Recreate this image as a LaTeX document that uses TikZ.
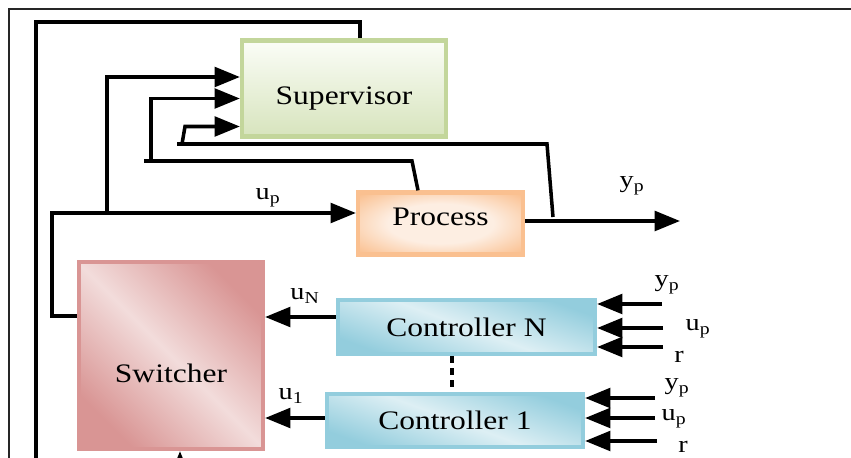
\documentclass[tikz,border=0pt]{standalone}
\usepackage{xcolor}
\usepackage{fontspec}
\setmainfont[FakeStretch=1.18]{Liberation Serif}
\usepackage{tikz}
\usetikzlibrary{arrows.meta,calc,shapes}

\definecolor{supline}{HTML}{C3D69B}
\definecolor{suptop}{HTML}{FBFDF7}
\definecolor{supbot}{HTML}{D7E4BD}
\definecolor{procline}{HTML}{FAC090}
\definecolor{proclight}{HTML}{FDEEE2}
\definecolor{swline}{HTML}{D99594}
\definecolor{swlight}{HTML}{F2DCDB}
\definecolor{ctrlline}{HTML}{93CDDD}
\definecolor{ctrllight}{HTML}{DDEFF4}

\pgfdeclareradialshading{procshade}{\pgfpoint{0bp}{0bp}}{color(0bp)=(proclight); color(16bp)=(proclight); color(34bp)=(procline); color(50bp)=(procline)}

\tikzset{
  blk/.style={draw, line width=3pt, inner sep=0pt, font=\fontsize{19}{23}\selectfont},
  boxtxt/.style={font=\fontsize{19}{23}\selectfont},
  sig/.style={font=\fontsize{17}{20}\selectfont, inner sep=0pt},
  wire/.style={line width=2.5pt},
  arr/.style={wire, -{Triangle[length=18pt,width=14pt]}},
}

\begin{document}
\begin{tikzpicture}[x=0.025cm, y=-0.025cm]
\useasboundingbox (0,0) rectangle (851,458);
\clip (0,0) rectangle (851,458);

% outer frame
\draw[line width=1.2pt, black!85] (9,470) -- (9,9) -- (860,9);

% blocks
\node[blk, draw=supline, top color=suptop, bottom color=supbot,
      minimum width=5.1cm, minimum height=2.4cm,
      label={[boxtxt,yshift=-0.25cm]center:Supervisor}] (sup) at (344,88.5) {};
\node[blk, draw=procline, shading=procshade,
      minimum width=4.125cm, minimum height=1.55cm,
      label={[boxtxt,yshift=0.17cm]center:Process}] (proc) at (440.5,223.5) {};
\node[blk, draw=swline, left color=swline, right color=swline, middle color=swlight,
      shading angle=-45, minimum width=4.6cm, minimum height=4.675cm,
      label={[boxtxt,yshift=-0.44cm]center:Switcher}] (sw) at (171,355.5) {};
\node[blk, draw=ctrlline, left color=ctrlline, right color=ctrlline, middle color=ctrllight,
      shading angle=-20, minimum width=6.425cm, minimum height=1.35cm] (ctrlN) at (466.5,327) {Controller N};
\node[blk, draw=ctrlline, left color=ctrlline, right color=ctrlline, middle color=ctrllight,
      shading angle=-20, minimum width=6.4cm, minimum height=1.325cm] (ctrl1) at (455,420.5) {Controller 1};

% supervisor back to switcher
\coordinate (loopc) at (36,22);
\coordinate (loopb) at (36,470);
\draw[wire] ($(sup.north)+(16,0)$) |- (loopc) -- (loopb);
\coordinate (swin) at (180,480);
\draw[arr] (swin) -- ($(sw.south)+(9,0)$);

% switcher output u_p to process
\coordinate (upin) at ($(proc.west)+(0,-10.5)$);
\draw[arr] ($(sw.north west)+(0,56)$) -- ++(-25,0) |- (upin);
\node[sig] (lup) at (268,198) {u\textsubscript{p}};

% feedbacks into supervisor
\draw[arr] (107,213) |- ($(sup.west)+(0,-11.5)$);
\draw[wire] ($(proc.north)+(-22.5,0)$) -- (412,161) -- (144,161);
\draw[arr] (151,161) |- ($(sup.west)+(0,10)$);
\draw[wire] (553,217) -- (547,144) -- (177,144);
\draw[arr] (182,144) -- (185,126.5) -- ($(sup.west)+(0,38)$);

% process output
\coordinate (yout) at (680,221);
\draw[arr] ($(proc.east)+(0,-2.5)$) -- (yout);
\node[sig] (lyp) at (632,186) {y\textsubscript{p}};

% controllers to switcher
\coordinate (uNo) at ($(ctrlN.west)+(0,-10)$);
\draw[arr] (uNo) -- (sw.east |- uNo);
\node[sig] (luN) at (305,296) {u\textsubscript{N}};
\coordinate (u1o) at ($(ctrl1.west)+(0,-2.5)$);
\draw[arr] (u1o) -- (sw.east |- u1o);
\node[sig] (lu1) at (291,396) {u\textsubscript{1}};
\draw[wire, dash pattern=on 5pt off 3.5pt] ($(ctrlN.south)+(-14.5,0)$) -- ($(ctrl1.north)+(-3,0)$);

% controller N inputs
\coordinate (iNy) at (662,304);
\coordinate (iNu) at (663,328);
\coordinate (iNr) at (663,347);
\draw[arr] (iNy) -- (ctrlN.east |- iNy);
\draw[arr] (iNu) -- (ctrlN.east |- iNu);
\draw[arr] (iNr) -- (ctrlN.east |- iNr);
\node[sig] (lNy) at (667,285) {y\textsubscript{p}};
\node[sig] (lNu) at (698,329) {u\textsubscript{p}};
\node[sig] (lNr) at (679,357) {r};

% controller 1 inputs
\coordinate (i1y) at (655,398);
\coordinate (i1u) at (655,418);
\coordinate (i1r) at (657,441);
\draw[arr] (i1y) -- (ctrl1.east |- i1y);
\draw[arr] (i1u) -- (ctrl1.east |- i1u);
\draw[arr] (i1r) -- (ctrl1.east |- i1r);
\node[sig] (l1y) at (677,388) {y\textsubscript{p}};
\node[sig] (l1u) at (674,419) {u\textsubscript{p}};
\node[sig] (l1r) at (683,447) {r};
\end{tikzpicture}
\end{document}
